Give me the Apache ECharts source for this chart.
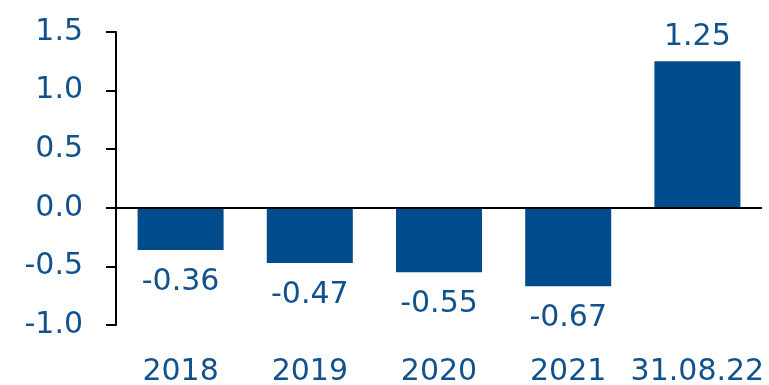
<!DOCTYPE html>
<html><head><meta charset="utf-8">
<script src="https://cdn.jsdelivr.net/npm/echarts@6/dist/echarts.min.js"></script>
<style>html,body{margin:0;padding:0;background:#fff}#c{width:769px;height:385px}</style>
</head><body><div id="c"></div>
<script>
const categories = ['2018', '2019', '2020', '2021', '31.08.22'];
const values = [-0.36, -0.47, -0.55, -0.67, 1.25];
const yTicks = [-1.0, -0.5, 0.0, 0.5, 1.0, 1.5];

const barColor = '#004B8B';
const textColor = '#11528E';
const font = 'DejaVu Sans';

const chart = echarts.init(document.getElementById('c'));
chart.setOption({
  animation: false,
  grid: { left: 116, right: 7, top: 32, bottom: 60, containLabel: false, outerBoundsMode: 'none' },
  xAxis: {
    type: 'category',
    data: categories,
    axisLine: { show: false, onZero: false },
    axisTick: { show: false },
    axisLabel: { color: textColor, fontSize: 30, fontFamily: font, margin: 32, interval: 0 }
  },
  yAxis: {
    type: 'value',
    min: yTicks[0], max: yTicks[yTicks.length - 1], interval: 0.5,
    axisLine: { show: true, lineStyle: { color: '#000', width: 2 } },
    axisTick: { show: true, length: 10, lineStyle: { color: '#000', width: 2 } },
    splitLine: { show: false },
    axisLabel: { color: textColor, fontSize: 30, fontFamily: font, margin: 33,
      formatter: v => v.toFixed(1) }
  },
  series: [{
    type: 'bar',
    barWidth: 86,
    data: values.map(v => ({
      value: v,
      label: { position: v < 0 ? 'bottom' : 'top', distance: v < 0 ? 17 : 9 }
    })),
    itemStyle: { color: barColor },
    label: { show: true, color: textColor, fontSize: 30, fontFamily: font,
      formatter: p => p.value.toFixed(2) },
    markLine: {
      silent: true, symbol: 'none', label: { show: false },
      lineStyle: { color: '#000', width: 2, type: 'solid' },
      data: [{ yAxis: 0 }]
    }
  }]
});
</script></body></html>
